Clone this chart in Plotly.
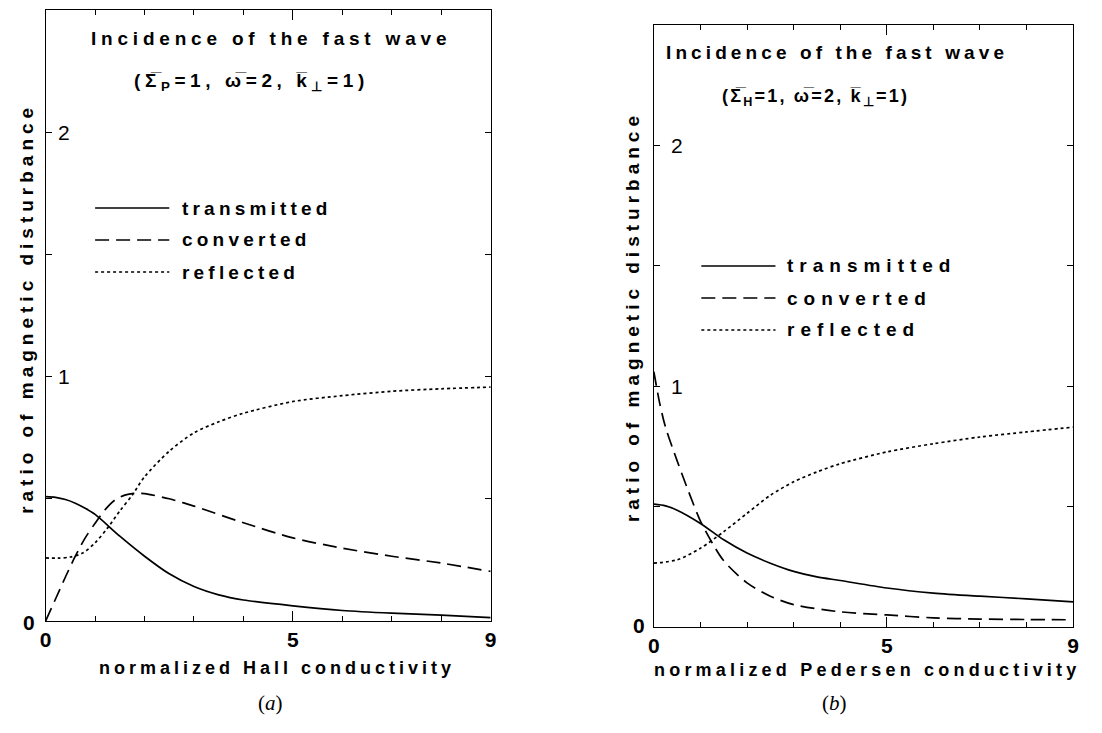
import plotly.graph_objects as go

# ---------------- data: panel (a) Hall conductivity ----------------
xa_trans = [0, 0.2, 0.4, 0.6, 0.8, 1.0, 1.5, 2.0, 2.5, 3.0, 3.5, 4.0, 5.0, 6.0, 7.0, 8.0, 9.0]
ya_trans = [0.509, 0.506, 0.497, 0.482, 0.461, 0.436, 0.347, 0.265, 0.193, 0.141, 0.107, 0.086, 0.062, 0.043, 0.032, 0.024, 0.014]

xa_conv = [0, 0.2, 0.4, 0.6, 0.8, 1.0, 1.2, 1.4, 1.6, 1.8, 2.0, 2.5, 3.0, 4.0, 5.0, 6.0, 7.0, 8.0, 9.0]
ya_conv = [0.0, 0.09, 0.18, 0.265, 0.34, 0.40, 0.455, 0.495, 0.515, 0.522, 0.521, 0.50, 0.47, 0.402, 0.34, 0.298, 0.265, 0.237, 0.203]

xa_refl = [0, 0.25, 0.5, 0.75, 1.0, 1.25, 1.5, 1.75, 2.0, 2.5, 3.0, 3.5, 4.0, 5.0, 6.0, 7.0, 8.0, 9.0]
ya_refl = [0.258, 0.257, 0.262, 0.278, 0.32, 0.38, 0.45, 0.515, 0.59, 0.695, 0.77, 0.815, 0.85, 0.898, 0.922, 0.94, 0.95, 0.957]

# ---------------- data: panel (b) Pedersen conductivity ----------------
xb_trans = [0, 0.25, 0.5, 1.0, 1.5, 2.0, 2.5, 3.0, 3.5, 4.0, 5.0, 6.0, 7.0, 8.0, 9.0]
yb_trans = [0.51, 0.503, 0.485, 0.43, 0.362, 0.307, 0.265, 0.231, 0.208, 0.193, 0.162, 0.141, 0.128, 0.117, 0.104]

xb_conv = [0, 0.125, 0.25, 0.5, 0.75, 1.0, 1.25, 1.5, 2.0, 2.5, 3.0, 4.0, 5.0, 6.0, 7.0, 8.0, 9.0]
yb_conv = [1.06, 0.93, 0.83, 0.69, 0.56, 0.44, 0.35, 0.275, 0.183, 0.128, 0.093, 0.063, 0.05, 0.038, 0.033, 0.031, 0.03]

xb_refl = [0, 0.5, 1.0, 1.5, 2.0, 2.5, 3.0, 3.5, 4.0, 5.0, 6.0, 7.0, 8.0, 9.0]
yb_refl = [0.265, 0.279, 0.327, 0.396, 0.472, 0.547, 0.603, 0.644, 0.678, 0.727, 0.761, 0.789, 0.81, 0.83]

series_names = ["transmitted", "converted", "reflected"]
x_ticks = [0, 5, 9]
y_tick_labels = ["0", "1", "2"]
y_tick_values = [0, 1, 2]

title_text = "Incidence of the fast wave"
params_a = "(Σ̅<sub>P</sub>=1, ω̅=2, k̅<sub>⊥</sub>=1)"
params_b = "(Σ̅<sub>H</sub>=1, ω̅=2, k̅<sub>⊥</sub>=1)"
xtitle_a = "normalized Hall conductivity"
xtitle_b = "normalized Pedersen conductivity"
ytitle = "ratio of magnetic disturbance"

# ---------------- styling / page geometry ----------------
DASHES = ["solid", "14px,7px", "3px,3px"]
FONT = "Liberation Sans"
OFF = 8                 # default page body margin
W, H = 1086, 717        # figure size so the page fits the 1102x733 window


def px(x):
    return (x - OFF) / W


def py(y):
    return 1 - (y - OFF) / H


def spaced(t, sp, bold=True):
    inner = f"<b>{t}</b>" if bold else t
    return f'<span style="letter-spacing:{sp}px">{inner}</span>'


fig = go.Figure()

panels = [
    ("x", "y", [(xa_trans, ya_trans), (xa_conv, ya_conv), (xa_refl, ya_refl)]),
    ("x2", "y2", [(xb_trans, yb_trans), (xb_conv, yb_conv), (xb_refl, yb_refl)]),
]
for xr, yr, series in panels:
    for (xs, ys), name, dash in zip(series, series_names, DASHES):
        fig.add_trace(go.Scatter(
            x=xs, y=ys, mode="lines", name=name, xaxis=xr, yaxis=yr,
            line=dict(color="black", width=1.7, dash=dash, shape="spline", smoothing=0.8),
            showlegend=False,
        ))

xaxis_common = dict(
    range=[0, 9], tickvals=x_ticks, ticktext=[f"<b>{v}</b>" for v in x_ticks],
    ticks="inside", ticklen=10, tickcolor="black", tickwidth=1,
    minor=dict(dtick=1, tick0=0, ticks="inside", ticklen=5, tickcolor="black"),
    showline=True, linecolor="black", linewidth=1.2, mirror="allticks",
    showgrid=False, zeroline=False,
    tickfont=dict(family=FONT, size=21, color="black"),
)
yaxis_common = dict(
    range=[0, 2.5], dtick=0.5, tick0=0,
    ticks="inside", ticklen=6, tickcolor="black", tickwidth=1,
    showline=True, linecolor="black", linewidth=1.2, mirror="allticks",
    showgrid=False, zeroline=False, showticklabels=False,
)

fig.update_layout(
    width=W, height=H, autosize=False,
    margin=dict(l=0, r=0, t=0, b=0),
    paper_bgcolor="white", plot_bgcolor="white",
    xaxis=dict(domain=[px(40), px(490)], anchor="y", **xaxis_common),
    yaxis=dict(domain=[py(621), py(10)], anchor="x", **yaxis_common),
    xaxis2=dict(domain=[px(655), px(1079)], anchor="y2", **xaxis_common),
    yaxis2=dict(domain=[py(627), py(25)], anchor="x2", **yaxis_common),
    showlegend=False,
)

annotations = []
shapes = []

layouts = [
    dict(xr="x", yr="y", title=(268, 38), title_sp=4.8, params=(248, 82), params_text=params_a,
         params_size=19, params_sp=4.6,
         leg_x0=90, leg_x1=165, leg_tx=176, leg_sp=4.2, leg_y=[208, 240, 272],
         ytitle=(20, 308), xtitle=(274, 668), xtitle_text=xtitle_a, xtitle_sp=4.0,
         caption=(267, 703), cap="a", zero_lab=(23, 622), tick_lab_x=0.2),
    dict(xr="x2", yr="y2", title=(840, 52), title_sp=4.1, params=(818, 97), params_text=params_b,
         params_size=18, params_sp=2.2,
         leg_x0=703, leg_x1=778, leg_tx=788, leg_sp=6.0, leg_y=[266, 298, 330],
         ytitle=(633, 317), xtitle=(871, 670), xtitle_text=xtitle_b, xtitle_sp=4.2,
         caption=(838, 703), cap="b", zero_lab=(640, 625), tick_lab_x=0.33),
]

for L in layouts:
    annotations.append(dict(
        text=spaced(title_text, L["title_sp"]), x=px(L["title"][0]), y=py(L["title"][1]),
        xref="paper", yref="paper", showarrow=False, xanchor="center", yanchor="middle",
        font=dict(family=FONT, size=19, color="black")))
    annotations.append(dict(
        text=spaced(L["params_text"], L["params_sp"]), x=px(L["params"][0]), y=py(L["params"][1]),
        xref="paper", yref="paper", showarrow=False, xanchor="center", yanchor="middle",
        font=dict(family=FONT, size=L["params_size"], color="black")))
    for yy, name, dash in zip(L["leg_y"], series_names, DASHES):
        shapes.append(dict(type="line", xref="paper", yref="paper",
                           x0=px(L["leg_x0"]), x1=px(L["leg_x1"]), y0=py(yy), y1=py(yy),
                           line=dict(color="black", width=1.7, dash=dash)))
        annotations.append(dict(
            text=spaced(name, L["leg_sp"]), x=px(L["leg_tx"]), y=py(yy),
            xref="paper", yref="paper", showarrow=False, xanchor="left", yanchor="middle",
            font=dict(family=FONT, size=19, color="black")))
    annotations.append(dict(
        text=spaced(ytitle, 5.0), x=px(L["ytitle"][0]), y=py(L["ytitle"][1]),
        xref="paper", yref="paper", showarrow=False, textangle=-90,
        xanchor="center", yanchor="middle",
        font=dict(family=FONT, size=19, color="black")))
    annotations.append(dict(
        text=spaced(L["xtitle_text"], L["xtitle_sp"]), x=px(L["xtitle"][0]), y=py(L["xtitle"][1]),
        xref="paper", yref="paper", showarrow=False, xanchor="center", yanchor="middle",
        font=dict(family=FONT, size=18, color="black")))
    annotations.append(dict(
        text=f"(<i>{L['cap']}</i>)", x=px(L["caption"][0]), y=py(L["caption"][1]),
        xref="paper", yref="paper", showarrow=False, xanchor="center", yanchor="middle",
        font=dict(family="Liberation Serif", size=21, color="black")))
    for val, lab in zip(y_tick_values, y_tick_labels):
        if val == 0:
            annotations.append(dict(
                text=f"<b>{lab}</b>", x=px(L["zero_lab"][0]), y=py(L["zero_lab"][1]),
                xref="paper", yref="paper", showarrow=False, xanchor="center", yanchor="middle",
                font=dict(family=FONT, size=21, color="black")))
        else:
            annotations.append(dict(
                text=lab, x=L["tick_lab_x"], y=val, xref=L["xr"], yref=L["yr"],
                showarrow=False, xanchor="left", yanchor="middle",
                font=dict(family=FONT, size=21, color="black")))

fig.update_layout(annotations=annotations, shapes=shapes)
fig.write_html("out.html")
